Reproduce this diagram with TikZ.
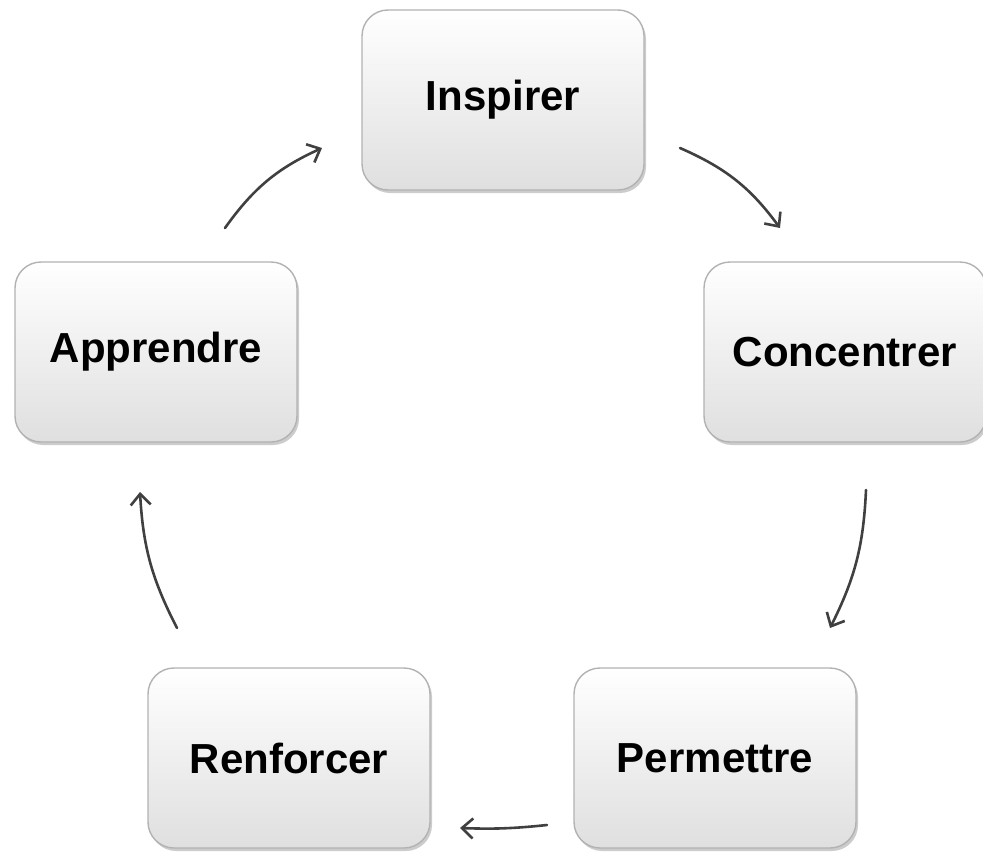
\documentclass[tikz,border=0pt]{standalone}
\usepackage{fontspec}
\setmainfont{Liberation Sans}
\usetikzlibrary{arrows.meta,shadows}

\begin{document}
\begin{tikzpicture}[x=1pt,y=-1pt]

      \useasboundingbox (0,0) rectangle (983,854);

      \begin{scope}[every node/.style={rectangle,rounded corners=26pt,
          minimum width=282pt,minimum height=180pt,draw=gray!60,line width=1.4pt,
          top color=white,bottom color=gray!25,
          drop shadow={opacity=.4,shadow xshift=2pt,shadow yshift=-3pt},
          font=\fontsize{42}{50}\selectfont\bfseries}]
        \node (1) at (503,100) {Inspirer};
        \node (2) at (845,352) {Concentrer};
        \node (3) at (715,758) {Permettre};
        \node (4) at (289,758) {Renforcer};
        \node (5) at (156,352) {Apprendre};
      \end{scope}

      % free arrow ends, the arrows do not touch the boxes
      \coordinate (1b) at (680,148);
      \coordinate (2a) at (780,228);
      \coordinate (2b) at (866,490);
      \coordinate (3a) at (830,628);
      \coordinate (3b) at (547,825);
      \coordinate (4a) at (460,828);
      \coordinate (4b) at (177,628);
      \coordinate (5a) at (140,492);
      \coordinate (5b) at (225,228);
      \coordinate (1a) at (322,148);

      \begin{scope}[every edge/.style={draw=black!75,line width=2.6pt,line cap=round,
          -{Straight Barb[length=11pt,width=20pt,line width=2.6pt]}}]
        \path (1b) edge[bend left=15] (2a);
        \path (2b) edge[bend left=12] (3a);
        \path (3b) edge[bend left=4]  (4a);
        \path (4b) edge[bend left=12] (5a);
        \path (5b) edge[bend left=15] (1a);
      \end{scope}

    \end{tikzpicture}
\end{document}
